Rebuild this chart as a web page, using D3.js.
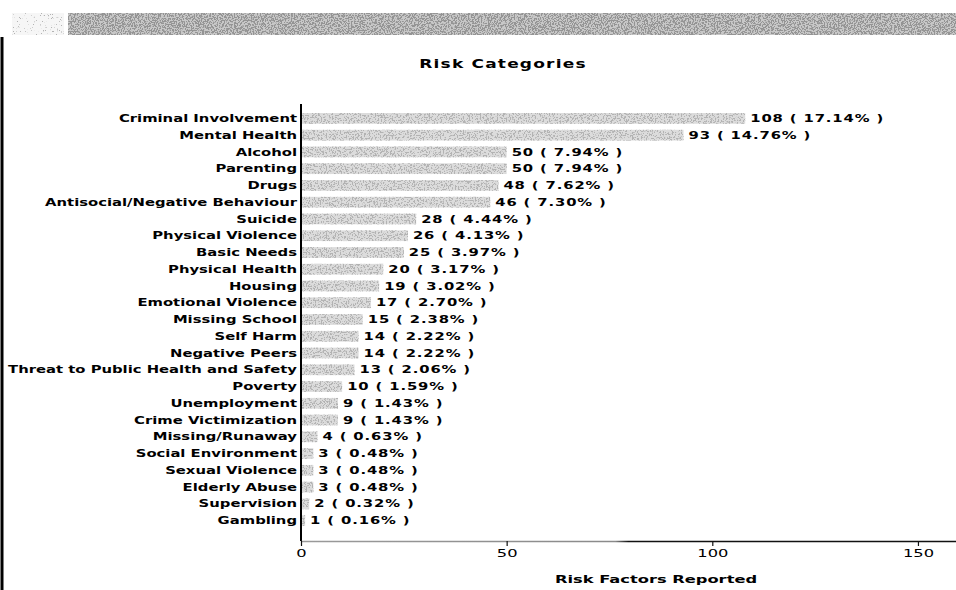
<!DOCTYPE html>
<html>
<head>
<meta charset="utf-8">
<script src="https://cdn.jsdelivr.net/npm/d3@7"></script>
<style>
  body { margin: 0; background: #fff; }
  svg { display: block; font-family: "DejaVu Sans", sans-serif; }
  text { white-space: pre; }
</style>
</head>
<body>
<script>
const CATEGORIES = [
    "Criminal Involvement", "Mental Health", "Alcohol", "Parenting", "Drugs",
    "Antisocial/Negative Behaviour", "Suicide", "Physical Violence", "Basic Needs",
    "Physical Health", "Housing", "Emotional Violence", "Missing School", "Self Harm",
    "Negative Peers", "Threat to Public Health and Safety", "Poverty", "Unemployment",
    "Crime Victimization", "Missing/Runaway", "Social Environment", "Sexual Violence",
    "Elderly Abuse", "Supervision", "Gambling"
];
const COUNTS = [108, 93, 50, 50, 48, 46, 28, 26, 25, 20, 19, 17, 15, 14, 14, 13, 10, 9, 9, 4, 3, 3, 3, 2, 1];
const PERCENTS = [
    "17.14", "14.76", "7.94", "7.94", "7.62", "7.30", "4.44", "4.13", "3.97",
    "3.17", "3.02", "2.70", "2.38", "2.22", "2.22", "2.06", "1.59", "1.43",
    "1.43", "0.63", "0.48", "0.48", "0.48", "0.32", "0.16"
];
const X_TICKS = [0, 50, 100, 150];
const TITLE = "Risk Categories";
const X_LABEL = "Risk Factors Reported";

const W = 956, H = 590;
const margin = { top: 107, left: 301, axisY: 541 };
const SX = 1.48; // the scanned chart is stretched sideways

const rows = CATEGORIES.map((c, i) => ({ cat: c, value: COUNTS[i], pct: PERCENTS[i] }));

const svg = d3.select("body").append("svg").attr("width", W).attr("height", H);
svg.append("rect").attr("width", W).attr("height", H).attr("fill", "#fff");

const defs = svg.append("defs");
function speckle(id, seed, freq, slope, cut, tone) {
    const f = defs.append("filter").attr("id", id)
        .attr("x", 0).attr("y", 0).attr("width", 1).attr("height", 1);
    f.append("feTurbulence").attr("type", "fractalNoise").attr("baseFrequency", freq)
        .attr("numOctaves", 2).attr("seed", seed).attr("result", "n");
    f.append("feColorMatrix").attr("in", "n").attr("type", "matrix")
        .attr("values", `0 0 0 0 ${tone} 0 0 0 0 ${tone} 0 0 0 0 ${tone} ${slope} 0 0 0 ${cut}`)
        .attr("result", "d");
    f.append("feComposite").attr("in", "d").attr("in2", "SourceGraphic").attr("operator", "in").attr("result", "dd");
    const m = f.append("feMerge");
    m.append("feMergeNode").attr("in", "SourceGraphic");
    m.append("feMergeNode").attr("in", "dd");
}
speckle("barSpeckle", 4, 0.65, 14, -7.3, 0.45);
speckle("bandSpeckle", 9, 0.7, 14, -6.6, 0.3);
speckle("lightSpeckle", 2, 0.7, 14, -9.2, 0.45);

const grad = defs.append("linearGradient").attr("id", "axisGrad")
    .attr("gradientUnits", "userSpaceOnUse").attr("x1", margin.left).attr("x2", W);
grad.append("stop").attr("offset", "0").attr("stop-color", "#9a9a9a");
grad.append("stop").attr("offset", "0.48").attr("stop-color", "#8a8a8a");
grad.append("stop").attr("offset", "0.5").attr("stop-color", "#111");
grad.append("stop").attr("offset", "1").attr("stop-color", "#111");

// scanned page leftovers: header band and page border
svg.append("rect").attr("x", 68).attr("y", 13).attr("width", W - 68).attr("height", 22)
    .attr("fill", "#c8c8c8").attr("filter", "url(#bandSpeckle)");
svg.append("rect").attr("x", 12).attr("y", 13).attr("width", 52).attr("height", 22)
    .attr("fill", "#f6f6f6").attr("filter", "url(#lightSpeckle)");
svg.append("line").attr("x1", 2).attr("x2", 2).attr("y1", 37).attr("y2", H)
    .attr("stroke", "#000").attr("stroke-width", 3);

const x = d3.scaleLinear().domain([0, 170]).range([margin.left, margin.left + 4.113 * 170]);
const y = d3.scaleBand().domain(CATEGORIES)
    .range([margin.top, margin.top + 17 * CATEGORIES.length]).padding(0.36);

// bars
svg.append("g").selectAll("rect").data(rows).join("rect")
    .attr("x", x(0))
    .attr("y", d => y(d.cat))
    .attr("width", d => x(d.value) - x(0))
    .attr("height", y.bandwidth())
    .attr("fill", "#dcdcdc")
    .attr("filter", "url(#barSpeckle)");

// value labels
svg.append("g").selectAll("text").data(rows).join("text")
    .attr("transform", d => `translate(${x(d.value) + 5},${y(d.cat) + y.bandwidth() / 2}) scale(${SX},1)`)
    .attr("dy", "0.36em")
    .attr("font-size", 10).attr("font-weight", "bold").attr("letter-spacing", 0.6)
    .text(d => `${d.value} ( ${d.pct}% )`);

// category labels
svg.append("g").selectAll("text").data(rows).join("text")
    .attr("transform", d => `translate(${x(0) - 4},${y(d.cat) + y.bandwidth() / 2}) scale(${SX},1)`)
    .attr("dy", "0.36em")
    .attr("text-anchor", "end")
    .attr("font-size", 10).attr("font-weight", "bold")
    .text(d => d.cat);

// vertical axis
svg.append("line")
    .attr("x1", x(0)).attr("x2", x(0))
    .attr("y1", margin.top - 3).attr("y2", margin.axisY)
    .attr("stroke", "#000").attr("stroke-width", 2);

// horizontal axis
const xAxis = svg.append("g").attr("transform", `translate(0,${margin.axisY})`)
    .call(d3.axisBottom(x).tickValues(X_TICKS).tickSize(5).tickPadding(3).tickSizeOuter(0));
xAxis.select(".domain").attr("stroke", "url(#axisGrad)").attr("stroke-width", 1.5);
xAxis.selectAll(".tick line").attr("stroke", "#111").attr("stroke-width", 1.2);
xAxis.selectAll(".tick text")
    .attr("font-family", "DejaVu Sans, sans-serif").attr("font-size", 11).attr("fill", "#000")
    .attr("transform", `scale(${SX},1)`);

// title and axis label
svg.append("text")
    .attr("transform", `translate(503,68) scale(${SX},1)`)
    .attr("text-anchor", "middle")
    .attr("font-size", 11.5).attr("font-weight", "bold").attr("letter-spacing", 0.8)
    .text(TITLE);

svg.append("text")
    .attr("transform", `translate(656,583) scale(${SX},1)`)
    .attr("text-anchor", "middle")
    .attr("font-size", 11).attr("font-weight", "bold")
    .text(X_LABEL);
</script>
</body>
</html>
